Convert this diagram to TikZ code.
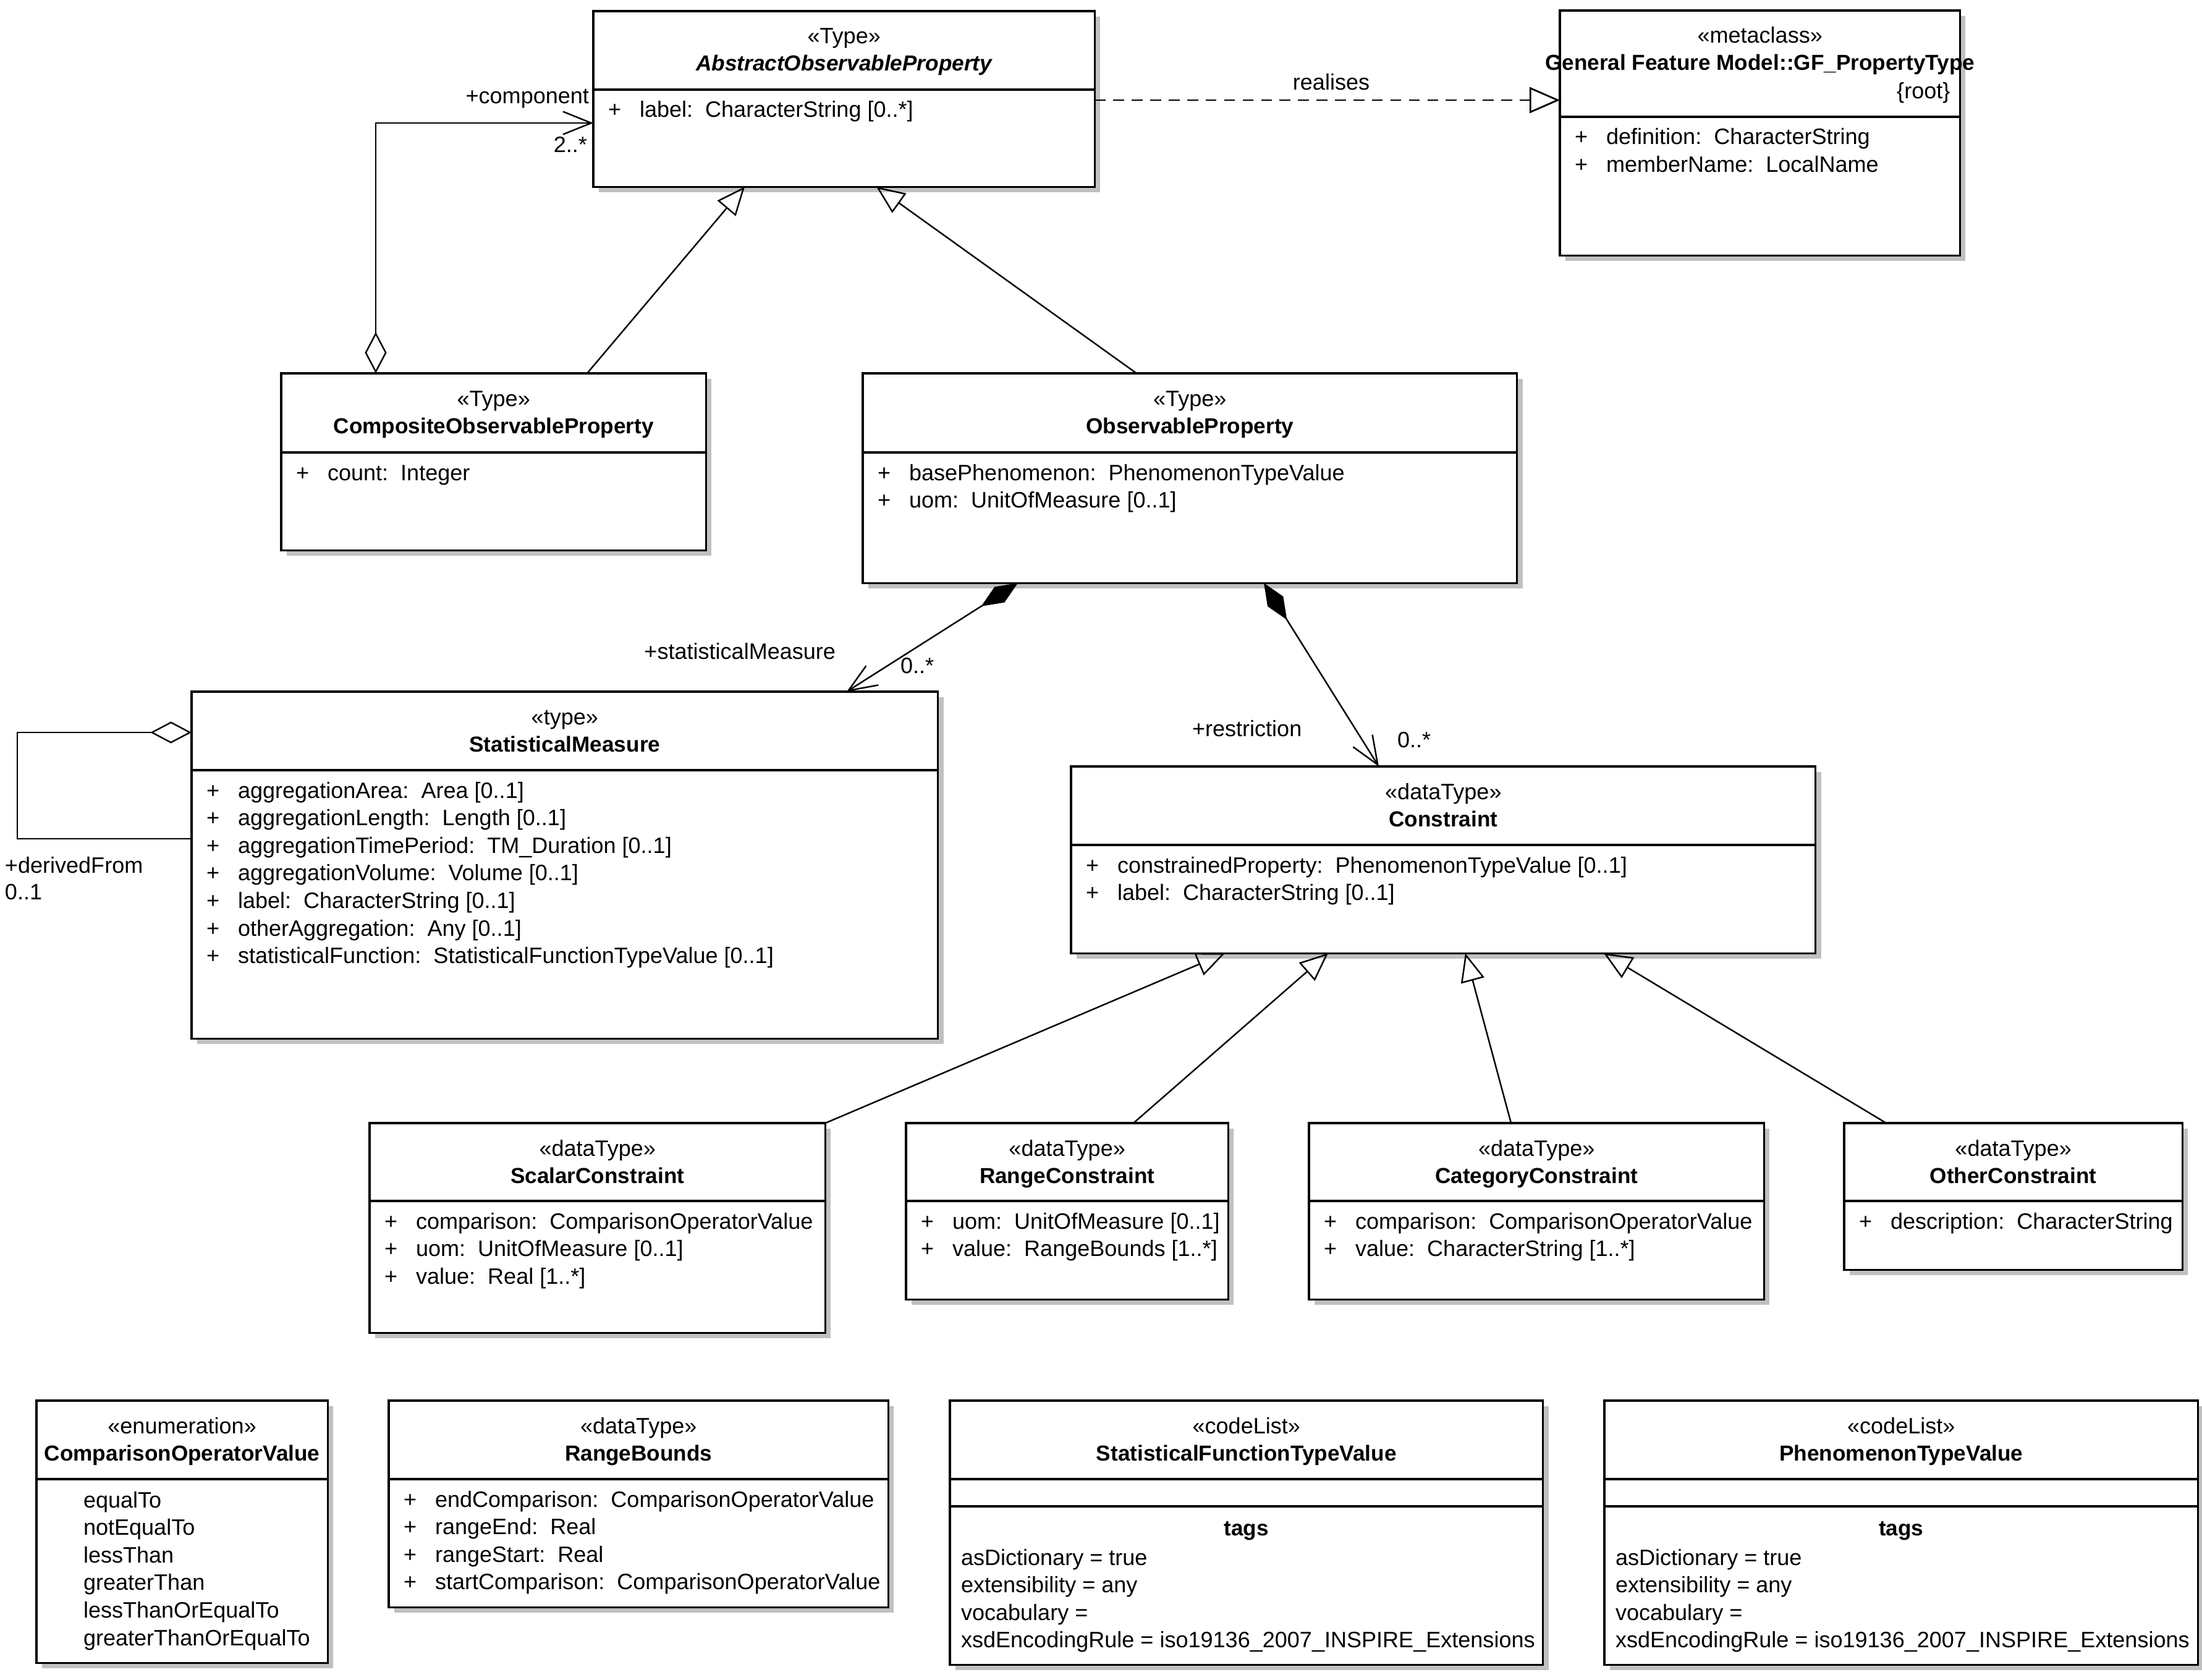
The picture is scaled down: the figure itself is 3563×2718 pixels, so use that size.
\documentclass[tikz,border=0pt]{standalone}
\usepackage{fontspec}
\setmainfont{Liberation Sans}
\usetikzlibrary{arrows.meta,calc,shadows}
\definecolor{shd}{HTML}{C0C0C0}
\tikzset{
  umlbox/.style={draw, line width=0.9pt, fill=white, anchor=north west, inner sep=0pt, outer sep=0pt,
    drop shadow={fill=shd, opacity=1, shadow xshift=0.09cm, shadow yshift=-0.09cm}},
  boxline/.style={line width=0.9pt},
  t/.style={inner sep=0pt, outer sep=0pt, font=\fontsize{10.25}{12}\selectfont},
  tb/.style={inner sep=0pt, outer sep=0pt, font=\fontsize{10}{12}\selectfont\bfseries},
  conn/.style={line width=0.7pt},
  gen/.style={conn, -{Triangle[open, length=13pt, width=11pt]}},
  real/.style={conn, line width=0.8pt, dash pattern=on 5pt off 3.5pt, -{Triangle[open, length=14pt, width=12pt]}},
  aggr/.style={conn, {Diamond[open, length=19pt, width=10pt]}-{Straight Barb[length=13pt, width=10.5pt]}},
  aggself/.style={conn, {Diamond[open, length=19pt, width=10pt]}-},
  compo/.style={conn, {Diamond[length=20pt, width=8.5pt]}-{Straight Barb[length=13pt, width=10.5pt]}},
}
\newcommand{\hdr}[4][]{%
  \node[t, anchor=base] (#2-st) at ($(#2.north)+(0,53)$) {«#3»};
  \node[tb, anchor=base, font=\fontsize{10}{12}\selectfont\bfseries#1] (#2-nm) at ($(#2.north)+(0,97)$) {#4};
}
\newcommand{\divider}[2]{\draw[boxline] ($(#1.north west)+(0,#2)$) -- ($(#1.north east)+(0,#2)$);}
\newcommand{\attrs}[3]{%
  \foreach \attrtext [count=\i from 0] in {#3} {
    \node[t, anchor=base west] (#1-p\i) at ($(#1.north west)+(24,{#2+45+44.6*\i})$) {+};
    \node[t, anchor=base west] (#1-a\i) at ($(#1.north west)+(75,{#2+45+44.6*\i})$) {\attrtext};
  }
}
\newcommand{\tagsblock}[1]{%
  \divider{#1}{127}\divider{#1}{171}
  \node[tb, anchor=base] (#1-tags) at ($(#1.north)+(0,218)$) {tags};
  \node[t, anchor=base west] (#1-g0) at ($(#1.north west)+(18,266)$) {asDictionary = true};
  \node[t, anchor=base west] (#1-g1) at ($(#1.north west)+(18,310.6)$) {extensibility = any};
  \node[t, anchor=base west] (#1-g2) at ($(#1.north west)+(18,355.2)$) {vocabulary =};
  \node[t, anchor=base west] (#1-g3) at ($(#1.north west)+(18,399.8)$) {xsdEncodingRule = iso19136\_2007\_INSPIRE\_Extensions};
}
\begin{document}
\begin{tikzpicture}[x=0.01cm, y=-0.01cm]
\fill[white] (0,0) rectangle (3563,2718);
\useasboundingbox (0,0) rectangle (3563,2718);

% ---- boxes ----
\node[umlbox, minimum width=8.11cm, minimum height=2.84cm] (abs) at (960,18) {};
\node[umlbox, minimum width=6.47cm, minimum height=3.96cm] (gf) at (2524,17) {};
\node[umlbox, minimum width=6.87cm, minimum height=2.86cm] (comp) at (455,604) {};
\node[umlbox, minimum width=10.58cm, minimum height=3.39cm] (obs) at (1396,604) {};
\node[umlbox, minimum width=12.07cm, minimum height=5.61cm] (sm) at (310,1119) {};
\node[umlbox, minimum width=12.04cm, minimum height=3.02cm] (con) at (1733,1240) {};
\node[umlbox, minimum width=7.37cm, minimum height=3.39cm] (sc) at (598,1817) {};
\node[umlbox, minimum width=5.21cm, minimum height=2.85cm] (rc) at (1466,1817) {};
\node[umlbox, minimum width=7.36cm, minimum height=2.85cm] (cc) at (2118,1817) {};
\node[umlbox, minimum width=5.47cm, minimum height=2.37cm] (oc) at (2984,1817) {};
\node[umlbox, minimum width=4.71cm, minimum height=4.24cm] (cov) at (59,2266) {};
\node[umlbox, minimum width=8.08cm, minimum height=3.34cm] (rb) at (629,2266) {};
\node[umlbox, minimum width=9.59cm, minimum height=4.27cm] (sftv) at (1537,2266) {};
\node[umlbox, minimum width=9.60cm, minimum height=4.27cm] (ptv) at (2596,2266) {};

% ---- AbstractObservableProperty ----
\divider{abs}{127}
\hdr[\itshape]{abs}{Type}{AbstractObservableProperty}
\attrs{abs}{127}{label:~~CharacterString [0..*]}

% ---- GF_PropertyType ----
\divider{gf}{172}
\hdr{gf}{metaclass}{General Feature Model::GF\_PropertyType}
\node[t, anchor=base east] (gf-root) at ($(gf.north east)+(-16,143)$) {\{root\}};
\attrs{gf}{172}{definition:~~CharacterString, memberName:~~LocalName}

% ---- CompositeObservableProperty ----
\divider{comp}{128}
\hdr{comp}{Type}{CompositeObservableProperty}
\attrs{comp}{128}{count:~~Integer}

% ---- ObservableProperty ----
\divider{obs}{128}
\hdr{obs}{Type}{ObservableProperty}
\attrs{obs}{128}{basePhenomenon:~~PhenomenonTypeValue, uom:~~UnitOfMeasure [0..1]}

% ---- StatisticalMeasure ----
\divider{sm}{127}
\hdr{sm}{type}{StatisticalMeasure}
\attrs{sm}{127}{aggregationArea:~~Area [0..1], aggregationLength:~~Length [0..1], aggregationTimePeriod:~~TM\_Duration [0..1], aggregationVolume:~~Volume [0..1], label:~~CharacterString [0..1], otherAggregation:~~Any [0..1], statisticalFunction:~~StatisticalFunctionTypeValue [0..1]}

% ---- Constraint ----
\divider{con}{127}
\hdr{con}{dataType}{Constraint}
\attrs{con}{127}{constrainedProperty:~~PhenomenonTypeValue [0..1], label:~~CharacterString [0..1]}

% ---- ScalarConstraint ----
\divider{sc}{126}
\hdr{sc}{dataType}{ScalarConstraint}
\attrs{sc}{126}{comparison:~~ComparisonOperatorValue, uom:~~UnitOfMeasure [0..1], value:~~Real [1..*]}

% ---- RangeConstraint ----
\divider{rc}{126}
\hdr{rc}{dataType}{RangeConstraint}
\attrs{rc}{126}{uom:~~UnitOfMeasure [0..1], value:~~RangeBounds [1..*]}

% ---- CategoryConstraint ----
\divider{cc}{126}
\hdr{cc}{dataType}{CategoryConstraint}
\attrs{cc}{126}{comparison:~~ComparisonOperatorValue, value:~~CharacterString [1..*]}

% ---- OtherConstraint ----
\divider{oc}{126}
\hdr{oc}{dataType}{OtherConstraint}
\attrs{oc}{126}{description:~~CharacterString}

% ---- ComparisonOperatorValue ----
\divider{cov}{127}
\hdr{cov}{enumeration}{ComparisonOperatorValue}
\foreach \ev [count=\i from 0] in {equalTo, notEqualTo, lessThan, greaterThan, lessThanOrEqualTo, greaterThanOrEqualTo} {
  \node[t, anchor=base west] (cov-v\i) at ($(cov.north west)+(76,{127+46+44.6*\i})$) {\ev};
}

% ---- RangeBounds ----
\divider{rb}{127}
\hdr{rb}{dataType}{RangeBounds}
\attrs{rb}{127}{endComparison:~~ComparisonOperatorValue, rangeEnd:~~Real, rangeStart:~~Real, startComparison:~~ComparisonOperatorValue}

% ---- code lists ----
\hdr{sftv}{codeList}{StatisticalFunctionTypeValue}
\tagsblock{sftv}
\hdr{ptv}{codeList}{PhenomenonTypeValue}
\tagsblock{ptv}

% ---- connectors ----
\draw[aggr] ($(comp.north west)+(153,0)$) |- ($(abs.north west)+(0,181)$);
\node[t, anchor=base east] (l-comp) at (953,168) {+component};
\node[t, anchor=base east] (l-comp-m) at (950,246) {2..*};

\draw[gen] ($(comp.north west)+(495,0)$) -- ($(abs.south west)+(245,0)$);
\draw[gen] ($(obs.north west)+(443,0)$) -- ($(abs.south west)+(458,0)$);

\draw[real] ($(abs.north east)+(0,144)$) -- ($(gf.north west)+(0,145)$);
\node[t, anchor=base] (l-real) at (2154,146) {realises};

\draw[compo] ($(obs.south west)+(251,0)$) -- ($(sm.north west)+(1060,0)$);
\node[t, anchor=base east] (l-sm) at (1352,1066) {+statisticalMeasure};
\node[t, anchor=base west] (l-sm-m) at (1457,1089) {0..*};

\draw[compo] ($(obs.south west)+(649,0)$) -- ($(con.north west)+(498,0)$);
\node[t, anchor=base west] (l-res) at (1929,1191) {+restriction};
\node[t, anchor=base west] (l-res-m) at (2261,1209) {0..*};

\draw[aggself] ($(sm.north west)+(0,66)$) -- ++(-282,0) |- ($(sm.north west)+(0,238)$);
\node[t, anchor=base west] (l-df) at (8,1412) {+derivedFrom};
\node[t, anchor=base west] (l-df-m) at (8,1455) {0..1};

\draw[gen] (sc.north east) -- ($(con.south west)+(249,0)$);
\draw[gen] ($(rc.north west)+(368,0)$) -- ($(con.south west)+(416,0)$);
\draw[gen] ($(cc.north west)+(327,0)$) -- ($(con.south west)+(638,0)$);
\draw[gen] ($(oc.north west)+(68,0)$) -- ($(con.south west)+(862,0)$);
\end{tikzpicture}
\end{document}
